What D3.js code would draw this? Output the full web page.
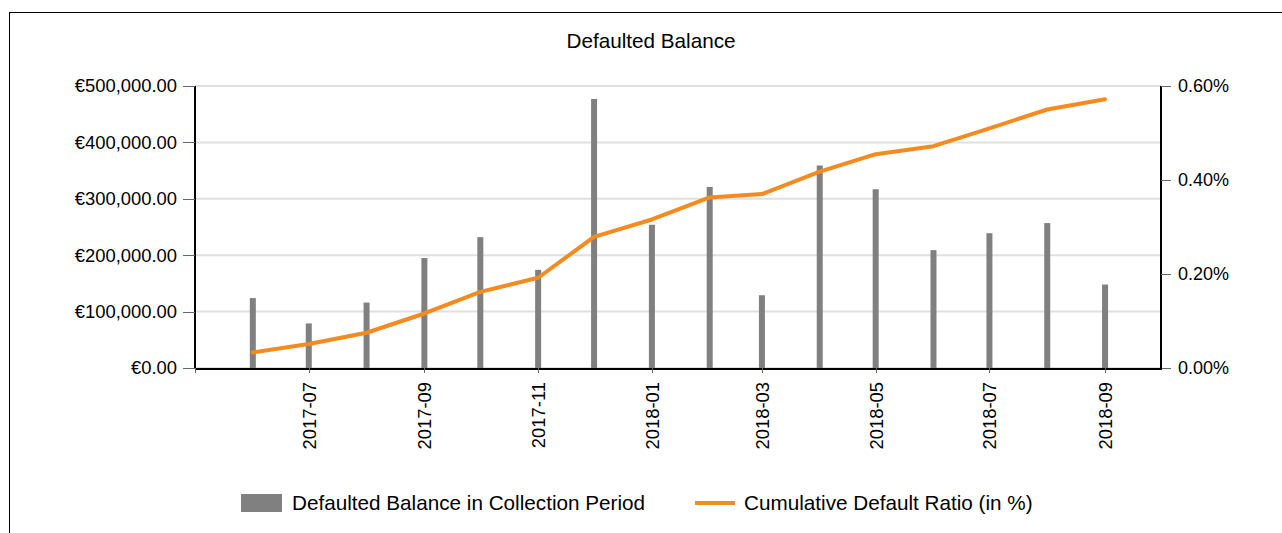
<!DOCTYPE html>
<html>
<head>
<meta charset="utf-8">
<script src="https://cdn.jsdelivr.net/npm/d3@7"></script>
<style>
  body { margin: 0; background: #fff; font-family: "Liberation Sans", Arial, sans-serif; }
  svg { display: block; }
  .axis path, .axis line { shape-rendering: crispEdges; }
</style>
</head>
<body>
<div id="chart"></div>
<script>
// Monthly collection periods
var months = ['2017-06', '2017-07', '2017-08', '2017-09', '2017-10', '2017-11', '2017-12',
  '2018-01', '2018-02', '2018-03', '2018-04', '2018-05', '2018-06', '2018-07', '2018-08', '2018-09'];

// Defaulted balance in collection period (EUR)
var defaultedBalance = [124000, 79000, 116000, 195000, 232000, 174000, 477000,
  254000, 321000, 129000, 359000, 317000, 209000, 239000, 257000, 148000];

// Cumulative default ratio (in %)
var cumulativeRatio = [0.033, 0.051, 0.075, 0.116, 0.162, 0.192, 0.279,
  0.316, 0.363, 0.370, 0.418, 0.455, 0.472, 0.510, 0.550, 0.572];

var leftTicks = [0, 100000, 200000, 300000, 400000, 500000];
var rightTicks = [0, 0.2, 0.4, 0.6];

var seriesNames = ['Defaulted Balance in Collection Period', 'Cumulative Default Ratio (in %)'];

var cfg = {
  width: 1302,
  height: 533,
  margin: {top: 86, right: 141, bottom: 165, left: 195},
  barColor: '#808080',
  lineColor: '#F58A1F',
  gridColor: '#e0e0e0'
};

var parseMonth = d3.timeParse('%Y-%m');
var fmtMonth = d3.timeFormat('%Y-%m');
var data = months.map(function(m, i) {
  return {date: parseMonth(m), balance: defaultedBalance[i], ratio: cumulativeRatio[i]};
});

var innerW = cfg.width - cfg.margin.left - cfg.margin.right;
var innerH = cfg.height - cfg.margin.top - cfg.margin.bottom;

// x runs one month either side of the data
var x = d3.scaleTime()
  .domain([d3.timeMonth.offset(data[0].date, -1), d3.timeMonth.offset(data[data.length - 1].date, 1)])
  .range([0, innerW]);
var yLeft = d3.scaleLinear().domain([0, 500000]).range([innerH, 0]);
var yRight = d3.scaleLinear().domain([0, 0.6]).range([innerH, 0]);

var svg = d3.select('#chart').append('svg')
  .attr('width', cfg.width)
  .attr('height', cfg.height);

// outer frame
svg.append('rect')
  .attr('x', 9.5).attr('y', 12.5)
  .attr('width', cfg.width).attr('height', cfg.height)
  .attr('fill', 'none').attr('stroke', '#000').attr('stroke-width', 1);

// title
svg.append('text')
  .attr('x', 651).attr('y', 48)
  .attr('text-anchor', 'middle')
  .style('font-size', '20.7px')
  .attr('fill', '#000')
  .text('Defaulted Balance');

var g = svg.append('g')
  .attr('transform', 'translate(' + cfg.margin.left + ',' + cfg.margin.top + ')');

// horizontal grid lines
g.append('g').selectAll('line')
  .data(leftTicks)
  .enter().append('line')
  .attr('x1', 0).attr('x2', innerW)
  .attr('y1', function(d) { return yLeft(d); })
  .attr('y2', function(d) { return yLeft(d); })
  .attr('stroke', cfg.gridColor)
  .attr('stroke-width', 2);

// bars
var barW = 6;
g.append('g').selectAll('rect')
  .data(data)
  .enter().append('rect')
  .attr('x', function(d) { return x(d.date) - barW / 2; })
  .attr('y', function(d) { return yLeft(d.balance); })
  .attr('width', barW)
  .attr('height', function(d) { return innerH - yLeft(d.balance); })
  .attr('fill', cfg.barColor);

// cumulative ratio line
var line = d3.line()
  .x(function(d) { return x(d.date); })
  .y(function(d) { return yRight(d.ratio); });

g.append('path')
  .datum(data)
  .attr('d', line)
  .attr('fill', 'none')
  .attr('stroke', cfg.lineColor)
  .attr('stroke-width', 4)
  .attr('stroke-linejoin', 'round')
  .attr('stroke-linecap', 'round');

// left axis
var eur = d3.format(',.2f');
var leftAxis = g.append('g').attr('class', 'axis')
  .call(d3.axisLeft(yLeft).tickValues(leftTicks).tickSize(12).tickPadding(6)
    .tickFormat(function(d) { return '€' + eur(d); }));

// right axis
var rightAxis = g.append('g').attr('class', 'axis')
  .attr('transform', 'translate(' + innerW + ',0)')
  .call(d3.axisRight(yRight).tickValues(rightTicks).tickSize(10).tickPadding(7)
    .tickFormat(function(d) { return d.toFixed(2) + '%'; }));

// bottom axis
var xTicks = d3.timeMonth.every(2).range(x.domain()[0], x.domain()[1]);
var bottomAxis = g.append('g').attr('class', 'axis')
  .attr('transform', 'translate(0,' + innerH + ')')
  .call(d3.axisBottom(x).tickValues(xTicks).tickSize(5).tickSizeOuter(0)
    .tickFormat(function(d, i) { return i === 0 ? '' : fmtMonth(d); }));

bottomAxis.selectAll('text')
  .attr('transform', 'rotate(-90)')
  .attr('x', -14)
  .attr('y', 0)
  .attr('dy', '0.35em')
  .attr('text-anchor', 'end');

[leftAxis, rightAxis, bottomAxis].forEach(function(a) {
  a.selectAll('text').style('font-size', '18.4px').attr('fill', '#000')
    .style('font-family', '"Liberation Sans", Arial, sans-serif');
  a.selectAll('.tick line').attr('stroke', '#666');
  a.select('.domain').attr('stroke', '#000').attr('stroke-width', 2);
});
rightAxis.selectAll('text').style('font-size', '18px');
leftAxis.select('.domain').attr('d', 'M0,' + innerH + 'V0');
rightAxis.select('.domain').attr('d', 'M0,' + innerH + 'V0');

// legend
var legend = svg.append('g').style('font-size', '20.7px');
legend.append('rect')
  .attr('x', 241).attr('y', 494)
  .attr('width', 41).attr('height', 18)
  .attr('fill', cfg.barColor);
legend.append('text')
  .attr('x', 292).attr('y', 510)
  .attr('fill', '#000')
  .text(seriesNames[0]);
legend.append('line')
  .attr('x1', 695).attr('x2', 735)
  .attr('y1', 503).attr('y2', 503)
  .attr('stroke', cfg.lineColor)
  .attr('stroke-width', 4);
legend.append('text')
  .attr('x', 744).attr('y', 510)
  .attr('fill', '#000')
  .text(seriesNames[1]);
</script>
</body>
</html>
